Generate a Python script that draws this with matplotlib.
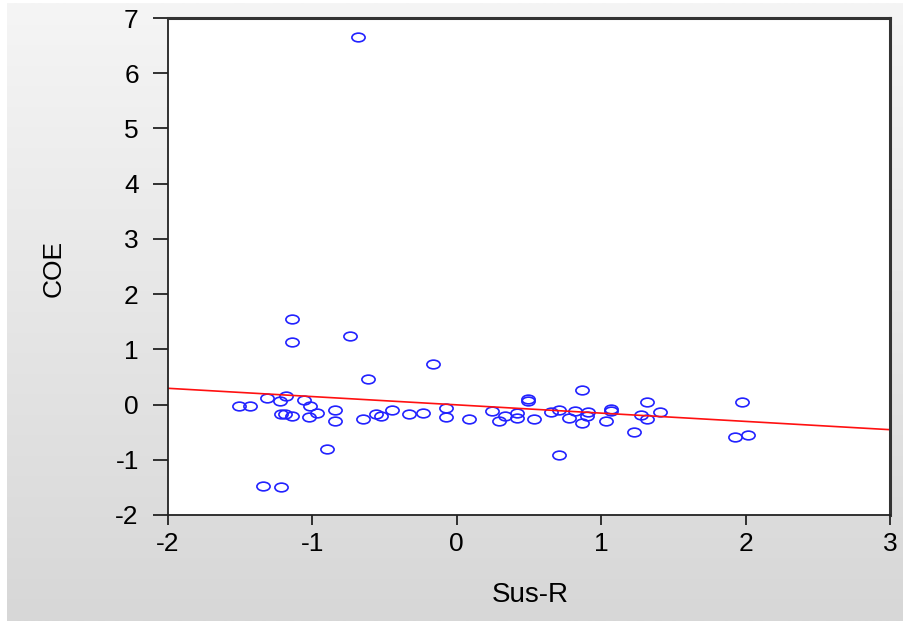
import numpy as np
import matplotlib
matplotlib.use("Agg")
import matplotlib.pyplot as plt
from matplotlib.path import Path

plt.rcParams['font.family'] = ['Liberation Sans', 'DejaVu Sans']
plt.rcParams['axes.unicode_minus'] = False

# scatter data
sus_r = [-0.686, -1.143, -1.143, -0.738, -0.613, -0.163, -1.508, -1.432, -1.312,
         -1.183, -1.222, -1.058, -1.017, -1.220, -1.190, -1.140, -1.021, -0.968,
         -0.846, -0.846, -0.897, -1.344, -1.217, -0.650, -0.562, -0.525, -0.449,
         -0.329, -0.236, -0.077, -0.077,
         0.087, 0.246, 0.295, 0.336, 0.419, 0.419, 0.495, 0.495, 0.537, 0.652,
         0.710, 0.708, 0.779, 0.818, 0.869, 0.869, 0.911, 0.902, 1.031, 1.066,
         1.066, 1.225, 1.276, 1.315, 1.317, 1.405, 1.925, 1.973, 2.015]
coe = [6.65, 1.556, 1.128, 1.243, 0.464, 0.73, -0.025, -0.025, 0.125,
       0.16, 0.065, 0.083, -0.025, -0.18, -0.18, -0.21, -0.22, -0.15,
       -0.09, -0.29, -0.80, -1.47, -1.49, -0.27, -0.18, -0.21, -0.09,
       -0.18, -0.15, -0.06, -0.22,
       -0.27, -0.12, -0.29, -0.21, -0.15, -0.25, 0.107, 0.065, -0.27, -0.13,
       -0.09, -0.91, -0.24, -0.11, 0.26, -0.33, -0.14, -0.20, -0.29, -0.085,
       -0.12, -0.49, -0.19, 0.04, -0.26, -0.14, -0.58, 0.04, -0.56]

x_ticks = [-2, -1, 0, 1, 2, 3]
y_ticks = [-2, -1, 0, 1, 2, 3, 4, 5, 6, 7]

fig = plt.figure(figsize=(9.04, 6.21), dpi=100)
fig.patch.set_facecolor('white')

# grey gradient background
bg = fig.add_axes([7 / 904, 0, 1 - 7 / 904, 1 - 3 / 621], zorder=-10)
grad = np.linspace(0, 1, 256).reshape(-1, 1)
bg.imshow(grad, aspect='auto', cmap=matplotlib.colors.LinearSegmentedColormap.from_list(
    'g', ['#f5f5f5', '#d7d7d7']), extent=[0, 1, 0, 1])
bg.set_axis_off()

ax = fig.add_axes([168 / 904, 1 - 515 / 621, 722 / 904, 497 / 621])
ax.set_facecolor('white')

# flattened circle to mimic the stretched markers
circ = Path.unit_circle()
ell = Path(circ.vertices * np.array([1.0, 0.66]), circ.codes)

ax.plot(sus_r, coe, linestyle='none', marker=ell, markersize=9.5,
        markerfacecolor='none', markeredgecolor='#2222ff', markeredgewidth=1.2)

# least squares line
b, a = np.polyfit(sus_r, coe, 1)
xl = np.array([-2, 3])
ax.plot(xl, a + b * xl, color='#ff1010', linewidth=1.2)

ax.set_xlim(-2, 3)
ax.set_ylim(-2, 7)
ax.set_xticks(x_ticks)
ax.set_yticks(y_ticks)
ax.tick_params(axis='y', length=11, width=1.3, pad=10, labelsize=19, color='#222222')
ax.tick_params(axis='x', length=7, width=1.3, pad=5, labelsize=19, color='#222222')
for side in ['left', 'bottom']:
    ax.spines[side].set_linewidth(1.3)
    ax.spines[side].set_color('#222222')
for side in ['top', 'right']:
    ax.spines[side].set_linewidth(2.2)
    ax.spines[side].set_color('#333333')

fig.text(54 / 904, 1 - 268 / 621, 'COE', rotation=90, ha='center', va='center', fontsize=19)
fig.text(530 / 904, 1 - 595 / 621, 'Sus-R', ha='center', va='center', fontsize=20)

fig.savefig('out.png', dpi=100)
